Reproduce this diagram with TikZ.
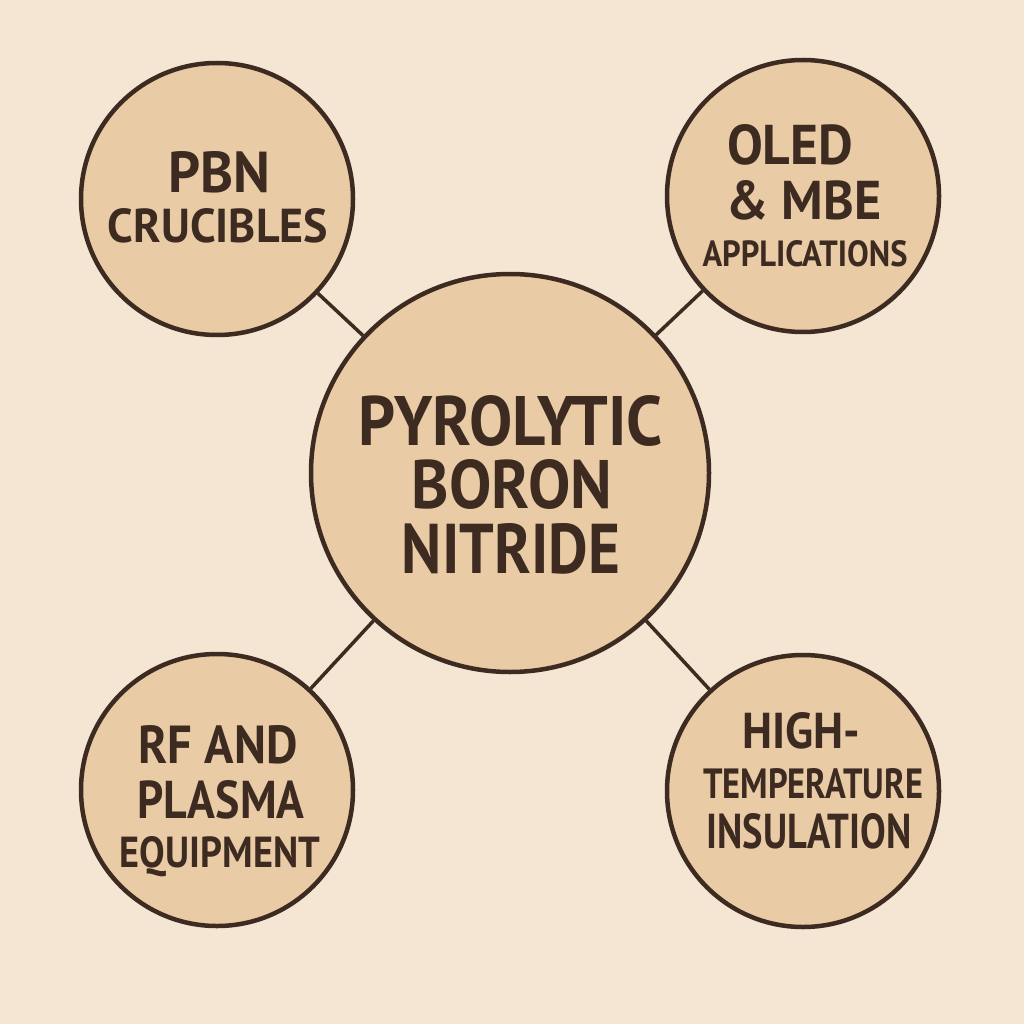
\documentclass[tikz,border=0pt]{standalone}
\usepackage{fontspec}
\setmainfont{PT Sans}
\usepackage{graphicx}
\definecolor{bg}{HTML}{F4E6D3}
\definecolor{fillc}{HTML}{E9CCA6}
\definecolor{ink}{HTML}{3D2B22}
\newcommand{\fitline}[3]{\resizebox{#1pt}{#2pt}{\fontsize{40}{48}\selectfont\bfseries #3}}
\begin{document}
\begin{tikzpicture}[x=1pt,y=-1pt,
  bubble/.style={circle, draw=ink, line width=4.5pt, fill=fillc, minimum size=272pt, inner sep=0pt},
  hub/.style={bubble, minimum size=398pt},
  lbl/.style={anchor=base, inner sep=0pt, text=ink},
  link/.style={draw=ink, line width=3.5pt}]
\fill[bg] (0,0) rectangle (1024,1024);
\useasboundingbox (0,0) rectangle (1024,1024);

\node[hub] (c) at (510,473) {};
\node[bubble] (tl) at (217,199) {};
\node[bubble] (tr) at (803,196) {};
\node[bubble] (bl) at (217,790) {};
\node[bubble] (br) at (803,791) {};

\draw[link] (c) -- (tl);
\draw[link] (c) -- (tr);
\draw[link] (c) -- (bl);
\draw[link] (c) -- (br);

% center
\node[lbl] (c1) at (511,445) {\fitline{304}{50}{PYROLYTIC}};
\node[lbl] (c2) at (512,508) {\fitline{200}{49}{BORON}};
\node[lbl] (c3) at (511,573) {\fitline{218}{50}{NITRIDE}};
% top-left
\node[lbl] (tl1) at (219,193) {\fitline{102}{41}{PBN}};
\node[lbl] (tl2) at (218,243) {\fitline{220}{34}{CRUCIBLES}};
% top-right
\node[lbl] (tr1) at (790,165) {\fitline{126}{40}{OLED}};
\node[lbl] (tr2) at (804,220) {\fitline{155}{39}{\& MBE}};
\node[lbl] (tr3) at (805,266) {\fitline{205}{26}{APPLICATIONS}};
% bottom-left
\node[lbl] (bl1) at (218,763) {\fitline{159}{38}{RF AND}};
\node[lbl] (bl2) at (221,818) {\fitline{167}{38}{PLASMA}};
\node[lbl] (bl3) at (220,867) {\fitline{200}{31}{EQUIPMENT}};
% bottom-right
\node[lbl] (br1) at (801,748) {\fitline{118}{36}{HIGH-}};
\node[lbl] (br2) at (813,798) {\fitline{220}{30}{TEMPERATURE}};
\node[lbl] (br3) at (809,848) {\fitline{205}{35}{INSULATION}};
\end{tikzpicture}
\end{document}
